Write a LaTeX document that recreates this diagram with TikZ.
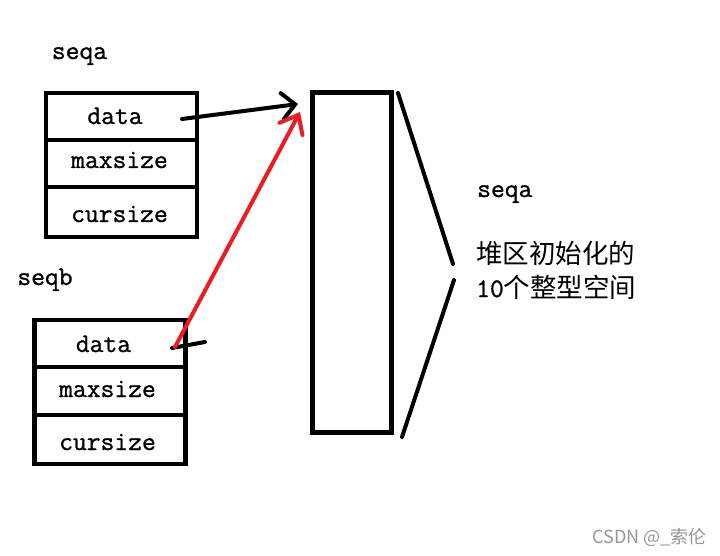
\documentclass[tikz,border=0pt]{standalone}
\usepackage{fontspec}
\usetikzlibrary{arrows.meta}
\newfontfamily\monof[FakeBold=1]{Latin Modern Mono}
\newfontfamily\cjkf{Noto Sans CJK SC}
\begin{document}
\begin{tikzpicture}[x=1pt,y=-1pt,
  cell/.style={draw,line width=4.5pt,minimum width=151pt,inner sep=0pt},
  lbl/.style={inner sep=0pt,anchor=base,font=\monof\fontsize{26.8}{30}\selectfont},
  note/.style={inner sep=0pt,anchor=base west,font=\cjkf\fontsize{26.5}{30}\selectfont},
  stroke/.style={line width=4pt,line cap=round}]
\useasboundingbox (0,0) rectangle (720,556);
% seqa
\node[lbl] (la) at (79.5,59) {seqa};
\node[cell,minimum height=47pt] (adata) at (121.5,116.5) {};
\node[cell,minimum height=47pt] (amax) at (121.5,163.5) {};
\node[cell,minimum height=50pt] (acur) at (121.5,212) {};
\node[lbl] (tad) at (115,124) {data};
\node[lbl] (tam) at (119.5,168) {maxsize};
\node[lbl] (tac) at (119.5,222) {cursize};
% seqb
\node[lbl] (lb) at (45,285) {seqb};
\node[cell,minimum height=47pt] (bdata) at (110,343.5) {};
\node[cell,minimum height=48pt] (bmax) at (110,391) {};
\node[cell,minimum height=49pt] (bcur) at (110,439.5) {};
\node[lbl] (tbd) at (103.5,352) {data};
\node[lbl] (tbm) at (107.5,397) {maxsize};
\node[lbl] (tbc) at (107.5,450) {cursize};
% heap block
\node[draw,line width=5pt,minimum width=79pt,minimum height=339pt,inner sep=0pt] (heap) at (351.5,262.5) {};
% brace-like lines
\coordinate (u1) at (398,93);
\coordinate (u2) at (453,264);
\coordinate (d1) at (454,280);
\coordinate (d2) at (402,437);
\draw[stroke] (u1) -- (u2);
\draw[stroke] (d1) -- (d2);
% notes
\node[lbl,anchor=base west] (ra) at (477,197) {seqa};
\node[note] (n1) at (476,263) {堆区初始化的};
\node[note] (n2) at (476,297) {{\monof\fontsize{26.8}{30}\selectfont 10}个整型空间};
% arrows
\coordinate (at) at (182,119);
\coordinate (ah) at (298,104);
\draw[stroke,-{Straight Barb[length=13pt,width=26pt,line cap=round]}] (at) -- (ah);
\coordinate (bt) at (175,347);
\coordinate (bh) at (300,112);
\coordinate (bs0) at (172,348);
\coordinate (bs) at (205,342);
\draw[stroke] (bs0) -- (bs);
\draw[stroke,draw={rgb,255:red,236;green,28;blue,36},-{Straight Barb[length=16pt,width=26pt,line cap=round]}] (bt) -- (bh);
% watermark
\node[inner sep=0pt,anchor=east,text={rgb,255:red,150;green,150;blue,150},font=\cjkf\fontsize{18}{20}\selectfont] (wm) at (707,537) {CSDN @\_索伦};
\end{tikzpicture}
\end{document}
